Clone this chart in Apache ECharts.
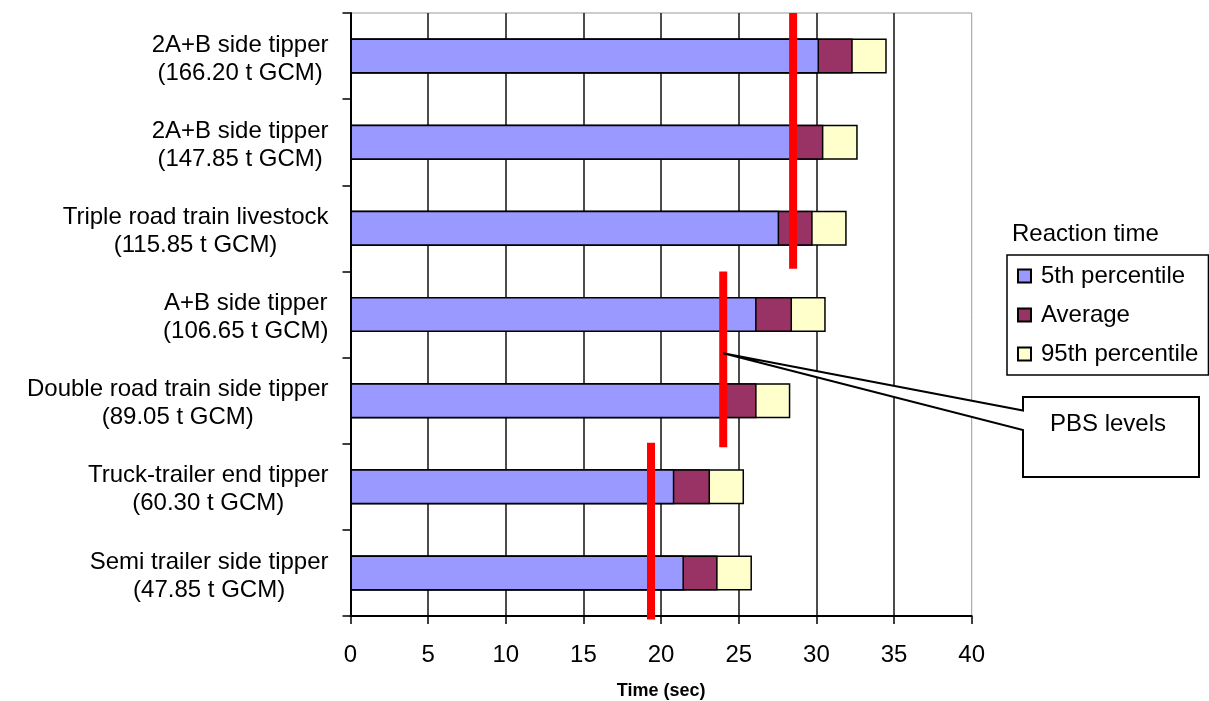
<!DOCTYPE html>
<html>
<head>
<meta charset="utf-8">
<script src="https://cdn.jsdelivr.net/npm/echarts@6/dist/echarts.min.js"></script>
<style>
html,body{margin:0;padding:0;background:#fff;}
#chart{width:1209px;height:701px;}
</style>
</head>
<body>
<div id="chart"></div>
<script>
// Categories, bottom to top
const categories = [
  'Semi trailer side tipper\n(47.85 t GCM)',
  'Truck-trailer end tipper\n(60.30 t GCM)',
  'Double road train side tipper\n(89.05 t GCM)',
  'A+B side tipper\n(106.65 t GCM)',
  'Triple road train livestock\n(115.85 t GCM)',
  '2A+B side tipper\n(147.85 t GCM)',
  '2A+B side tipper\n(166.20 t GCM)'
];
const p5Values  = [21.47, 20.85, 24.1, 26.15, 27.6, 28.4, 30.17];
const avgValues = [23.64, 23.15, 26.15, 28.43, 29.76, 30.45, 32.34];
const p95Values = [25.85, 25.34, 28.32, 30.6, 31.95, 32.66, 34.53];
// PBS levels (seconds) and the vertical span (in category units) each covers
const pbsLevels = [19.35, 24.0, 28.5];
const pbsSpans  = [[-0.04, 2.01], [1.96, 4.0], [4.03, 7.0]];
const xTicks = [0, 5, 10, 15, 20, 25, 30, 35, 40];
const legendTitle = 'Reaction time';
const calloutText = 'PBS levels';
const calloutAnchor = [24.0, 3.05];

const FONT = '"Liberation Sans", Arial, sans-serif';
const chart = echarts.init(document.getElementById('chart'));

const pbsData = [];
pbsLevels.forEach((lv, i) => {
  if (i > 0) pbsData.push(['-', '-']);
  pbsData.push([lv, pbsSpans[i][0]]);
  pbsData.push([lv, pbsSpans[i][1]]);
});

const barCommon = {
  type: 'bar',
  barWidth: 35,
  barGap: '-100%',
  yAxisIndex: 0,
  emphasis: {disabled: true},
};

chart.setOption({
  animation: false,
  textStyle: {fontFamily: FONT},
  grid: {left: 350.5, right: 237.3, top: 13, bottom: 85, show: true, borderColor: '#999', borderWidth: 1,
    outerBoundsMode: 'none', containLabel: false},
  legend: {
    data: ['5th percentile', 'Average', '95th percentile'],
    orient: 'vertical',
    left: 1007, top: 255,
    padding: [9, 10, 9, 10],
    icon: 'rect',
    itemWidth: 13, itemHeight: 13,
    itemGap: 15,
    borderColor: '#000', borderWidth: 1.5,
    selectedMode: false,
    textStyle: {fontSize: 24, color: '#000', fontFamily: FONT, padding: [0, 0, 0, 5]}
  },
  xAxis: {
    type: 'value', min: xTicks[0], max: xTicks[xTicks.length - 1], interval: xTicks[1] - xTicks[0],
    name: 'Time (sec)', nameLocation: 'middle', nameGap: 66,
    nameTextStyle: {fontSize: 18, fontWeight: 'bold', color: '#000', fontFamily: FONT},
    axisLine: {show: true, lineStyle: {color: '#000', width: 2}},
    axisTick: {show: true, length: 8, lineStyle: {color: '#000', width: 1.5}},
    axisLabel: {fontSize: 24, color: '#000', margin: 27, fontFamily: FONT},
    splitLine: {show: true, showMaxLine: false, lineStyle: {color: '#111', width: 1.5}}
  },
  yAxis: [{
    type: 'category', data: categories,
    axisLine: {show: true, lineStyle: {color: '#000', width: 2}},
    axisTick: {show: true, length: 8, lineStyle: {color: '#000', width: 1.5}},
    axisLabel: {
      fontSize: 24, color: '#000', margin: 22, align: 'right', lineHeight: 28, fontFamily: FONT,
      padding: [6, 0, 0, 0],
      formatter: v => v.split('\n').map(s => '{a|' + s + '}').join('\n'),
      rich: {a: {fontSize: 24, lineHeight: 28, align: 'center', color: '#000', fontFamily: FONT}}
    },
    splitLine: {show: false}
  }, {
    type: 'value', min: 0, max: 7, show: false
  }],
  series: [
    Object.assign({}, barCommon, {name: '95th percentile', data: p95Values,
      itemStyle: {color: '#FFFFCC', borderColor: '#000', borderWidth: 1.5}}),
    Object.assign({}, barCommon, {name: 'Average', data: avgValues,
      itemStyle: {color: '#993366', borderColor: '#000', borderWidth: 1.5}}),
    Object.assign({}, barCommon, {name: '5th percentile', data: p5Values,
      itemStyle: {color: '#9999FF', borderColor: '#000', borderWidth: 1.5}}),
    {
      name: 'PBS', type: 'line', xAxisIndex: 0, yAxisIndex: 1, data: pbsData,
      symbol: 'none', clip: false, connectNulls: false, z: 5,
      lineStyle: {color: '#FF0000', width: 8, cap: 'butt'},
      emphasis: {disabled: true}, silent: true
    }
  ]
});

function drawCallout() {
  const tip = chart.convertToPixel({xAxisIndex: 0, yAxisIndex: 1}, calloutAnchor);
  const bx = 1023, by = 397, bw = 176, bh = 80;
  chart.setOption({
    graphic: [
      {
        type: 'text', left: 1012, top: 222,
        style: {text: legendTitle, fontSize: 24, fill: '#000', fontFamily: FONT}
      },
      {
        type: 'polygon', z: 100,
        shape: {points: [[bx, by], [bx + bw, by], [bx + bw, by + bh], [bx, by + bh], [bx, 430], tip, [bx, 410.5]]},
        style: {fill: '#fff', stroke: '#000', lineWidth: 2}
      },
      {
        type: 'text', z: 101, x: bx + bw / 2 - 3, y: 424,
        style: {text: calloutText, fontSize: 24, fill: '#000', fontFamily: FONT, align: 'center', verticalAlign: 'middle'}
      }
    ]
  });
}
drawCallout();
</script>
</body>
</html>
